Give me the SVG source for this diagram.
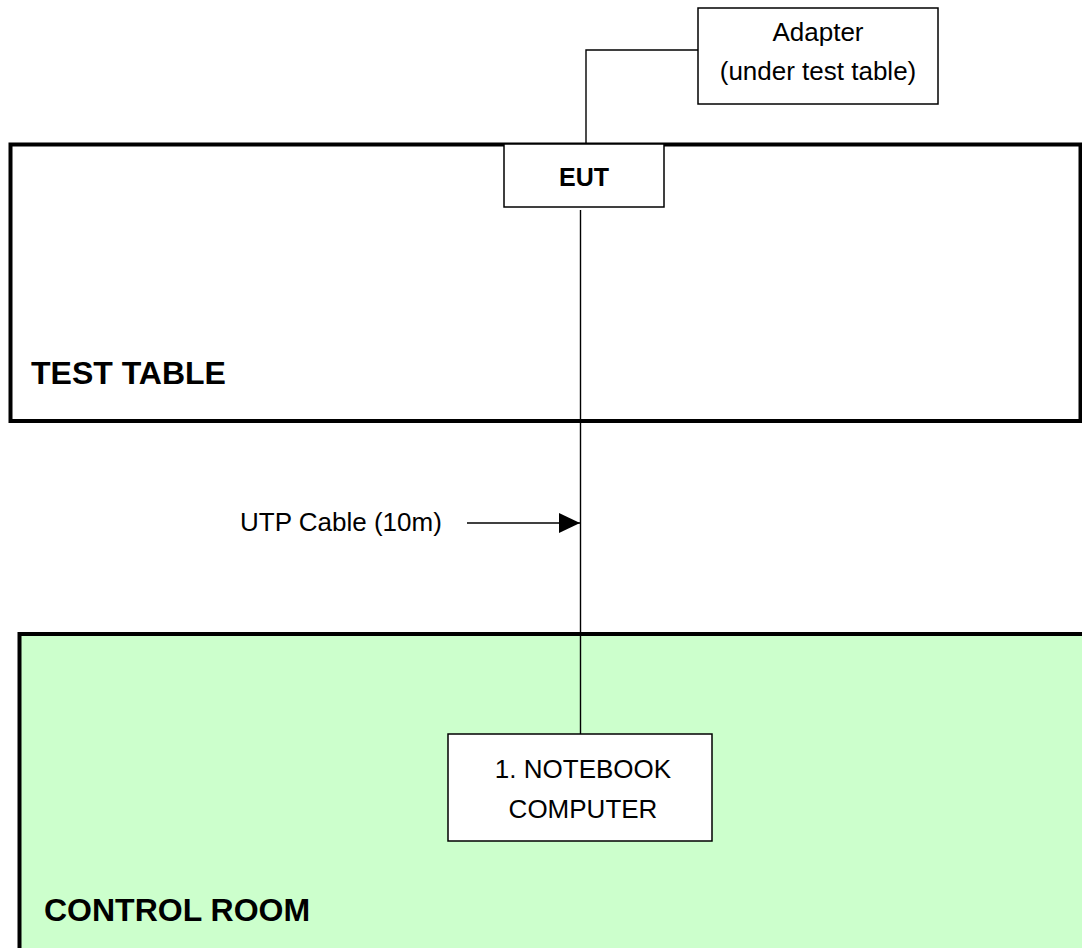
<svg xmlns="http://www.w3.org/2000/svg" width="1082" height="948" viewBox="0 0 1082 948">
<style>
.area{stroke:#000;stroke-width:4}
.box{fill:#fff;stroke:#000;stroke-width:1.5}
.wire{fill:none;stroke:#000;stroke-width:1.4}
.t{font-family:"Liberation Sans",Arial,sans-serif;font-size:26px;fill:#000}
.tc{text-anchor:middle}
.b{font-weight:bold}
.big{font-size:32px}
</style>
<defs>
<marker id="arr" markerWidth="21" markerHeight="20" refX="21" refY="10" orient="auto" markerUnits="userSpaceOnUse">
<path d="M0,0 L21,10 L0,20 Z" fill="#000"/>
</marker>
</defs>
<rect width="1082" height="948" fill="#fff"/>
<g id="test-table">
<rect class="area" x="10.5" y="144.5" width="1070" height="276.5" fill="#fff"/>
<text class="t b big" x="31" y="383.5">TEST TABLE</text>
</g>
<g id="control-room">
<rect class="area" x="19.5" y="634" width="1080" height="400" fill="#CCFFCC"/>
<text class="t b big" x="44" y="921">CONTROL ROOM</text>
</g>
<g id="connectors">
<path class="wire" d="M586,144 V50 H698"/>
<path class="wire" d="M580.5,210 V734"/>
<path class="wire" d="M467,523 H580" marker-end="url(#arr)"/>
</g>
<g id="adapter">
<rect class="box" x="698" y="8" width="240" height="96"/>
<text class="t tc" x="818" y="41">Adapter</text>
<text class="t tc" x="818" y="80">(under test table)</text>
</g>
<g id="eut">
<rect class="box" x="504" y="144" width="160" height="63"/>
<text class="t tc b" x="584" y="186" style="font-size:25px">EUT</text>
</g>
<g id="notebook">
<rect class="box" x="448" y="734" width="264" height="107"/>
<text class="t tc" x="583" y="778">1. NOTEBOOK</text>
<text class="t tc" x="583" y="818">COMPUTER</text>
</g>
<g id="utp-label">
<text class="t" x="240" y="531">UTP Cable (10m)</text>
</g>
</svg>
